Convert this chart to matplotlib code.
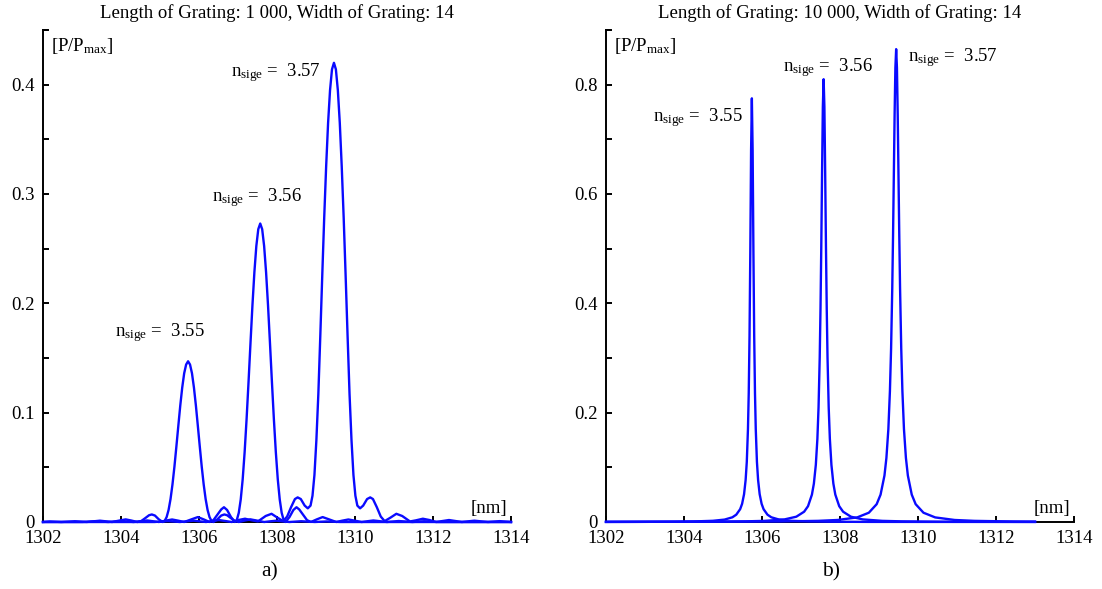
import matplotlib
matplotlib.use("Agg")
import matplotlib.pyplot as plt
from matplotlib.lines import Line2D
from matplotlib.ticker import MultipleLocator, FixedLocator

plt.rcParams['font.family'] = ['Liberation Serif', 'DejaVu Serif']
plt.rcParams['mathtext.fontset'] = 'custom'
plt.rcParams['mathtext.rm'] = 'Liberation Serif'
plt.rcParams['mathtext.it'] = 'Liberation Serif:italic'

# ---------------- data: panel a) (grating length 1 000) ----------------
wl_a = [1302.0, 1302.17, 1302.47, 1302.82, 1303.12, 1303.32, 1303.46, 1303.62, 1303.77, 1303.97,
        1304.12, 1304.27, 1304.42, 1304.52, 1304.62, 1304.72, 1304.79, 1304.87, 1304.97, 1305.07,
        1305.12, 1305.17, 1305.22, 1305.27, 1305.32, 1305.37, 1305.42, 1305.47, 1305.52, 1305.57,
        1305.62, 1305.67, 1305.72, 1305.77, 1305.82, 1305.87, 1305.92, 1305.97, 1306.02, 1306.07,
        1306.12, 1306.17, 1306.22, 1306.27, 1306.32, 1306.37, 1306.47, 1306.57, 1306.65, 1306.72,
        1306.82, 1306.92, 1307.02, 1307.17, 1307.32, 1307.47, 1307.67, 1307.82, 1307.98, 1308.12,
        1308.32, 1308.62, 1308.97, 1309.27, 1309.62, 1314.0]
p_a = [0, .0005, 0, .0007, 0, .0007, .0012, .0006, 0, .0014,
       .0024, .0013, 0, .0009, .0035, .0062, .0069, .0059, .0024, 0,
       .001, .0045, .011, .021, .0344, .0506, .069, .088, .1066, .123,
       .136, .144, .147, .144, .136, .123, .1066, .088, .069, .0506,
       .0344, .021, .011, .0045, .001, 0, .0024, .0059, .0069, .0062,
       .0035, .0009, 0, .0013, .0024, .0014, 0, .0006, .0012, .0007,
       0, .0007, 0, .0005, 0, 0]

wl_b = [1302.0, 1303.02, 1303.37, 1303.67, 1304.02, 1304.32, 1304.67, 1304.97, 1305.17, 1305.31,
        1305.47, 1305.62, 1305.82, 1305.97, 1306.12, 1306.27, 1306.37, 1306.47, 1306.57, 1306.64,
        1306.72, 1306.82, 1306.92, 1306.97, 1307.02, 1307.07, 1307.12, 1307.17, 1307.22, 1307.27,
        1307.32, 1307.37, 1307.42, 1307.47, 1307.52, 1307.57, 1307.62, 1307.67, 1307.72, 1307.77,
        1307.82, 1307.87, 1307.92, 1307.97, 1308.02, 1308.07, 1308.12, 1308.17, 1308.22, 1308.32,
        1308.42, 1308.50, 1308.57, 1308.67, 1308.77, 1308.87, 1309.02, 1309.17, 1309.32, 1309.52,
        1309.67, 1309.83, 1309.97, 1310.17, 1310.47, 1310.82, 1311.12, 1311.47, 1311.77, 1312.12,
        1314.0]
p_b = [0, 0, .0007, 0, .0009, 0, .0014, 0, .0014, .0023,
       .0012, 0, .0026, .0045, .0024, 0, .0017, .0066, .0115, .0135,
       .011, .0045, 0, .0019, .0084, .0206, .039, .0639, .094, .128,
       .1635, .198, .2284, .2524, .2678, .273, .2678, .2524, .2284, .198,
       .1635, .128, .094, .0639, .039, .0206, .0084, .0019, 0, .0045,
       .011, .0135, .0115, .0066, .0017, 0, .0024, .0045, .0026, 0,
       .0012, .0023, .0014, 0, .0014, 0, .0009, 0, .0007, 0,
       0]

wl_c = [1302.0, 1304.86, 1305.21, 1305.51, 1305.86, 1306.18, 1306.51, 1306.84, 1307.01, 1307.18,
        1307.36, 1307.51, 1307.71, 1307.86, 1308.01, 1308.16, 1308.26, 1308.36, 1308.46, 1308.53,
        1308.61, 1308.71, 1308.79, 1308.86, 1308.91, 1308.96, 1309.01, 1309.06, 1309.11, 1309.16,
        1309.21, 1309.26, 1309.31, 1309.36, 1309.41, 1309.46, 1309.51, 1309.56, 1309.61, 1309.66,
        1309.71, 1309.76, 1309.81, 1309.86, 1309.91, 1309.96, 1310.01, 1310.06, 1310.13, 1310.21,
        1310.31, 1310.39, 1310.46, 1310.56, 1310.66, 1310.76, 1310.91, 1311.06, 1311.21, 1311.41,
        1311.56, 1311.74, 1311.91, 1312.08, 1312.41, 1312.74, 1313.06, 1313.41, 1313.71, 1314.0]
p_c = [0, 0, .0008, 0, .0012, 0, .0018, 0, .0018, .003,
       .0015, .0005, .0055, .0075, .004, .0008, .005, .0135, .021, .0225,
       .021, .015, .0125, .015, .024, .043, .075, .117, .17, .225,
       .278, .325, .365, .395, .414, .42, .414, .395, .365, .325,
       .278, .225, .17, .117, .075, .043, .024, .015, .0125, .015,
       .021, .0225, .021, .0135, .005, .0008, .004, .0075, .0055, .0005,
       .0015, .003, .0018, 0, .0018, 0, .0012, 0, .0008, 0]

# ---------------- data: panel b) (grating length 10 000) ----------------
wl_d = [1302.0, 1302.74, 1303.74, 1304.24, 1304.74, 1305.04, 1305.24, 1305.34, 1305.44, 1305.49,
        1305.54, 1305.58, 1305.61, 1305.64, 1305.66, 1305.68, 1305.70, 1305.72, 1305.74, 1305.76,
        1305.78, 1305.80, 1305.82, 1305.84, 1305.87, 1305.90, 1305.94, 1305.99, 1306.04, 1306.14,
        1306.24, 1306.44, 1306.74, 1307.24, 1307.74, 1308.74, 1313.0]
p_d = [.0001, .0002, .0005, .001, .0022, .0044, .0086, .0134, .0235, .0333,
       .0509, .0767, .110, .170, .236, .340, .494, .679, .775, .679,
       .494, .340, .236, .170, .110, .0767, .0509, .0333, .0235, .0134,
       .0086, .0044, .0022, .001, .0005, .0002, .0001]

wl_e = [1302.0, 1304.58, 1305.58, 1306.08, 1306.58, 1306.88, 1307.08, 1307.18, 1307.28, 1307.33,
        1307.38, 1307.42, 1307.45, 1307.48, 1307.50, 1307.52, 1307.54, 1307.56, 1307.58, 1307.60,
        1307.62, 1307.64, 1307.66, 1307.68, 1307.71, 1307.74, 1307.78, 1307.83, 1307.88, 1307.98,
        1308.08, 1308.28, 1308.58, 1309.08, 1309.58, 1310.58, 1313.0]
p_e = [.0002, .0005, .0012, .0021, .0048, .0097, .0188, .0289, .0501, .0702,
       .1045, .152, .210, .301, .390, .504, .638, .759, .81, .759,
       .638, .504, .390, .301, .210, .152, .1045, .0702, .0501, .0289,
       .0188, .0097, .0048, .0021, .0012, .0005, .0002]

wl_f = [1302.0, 1306.44, 1307.44, 1307.94, 1308.44, 1308.74, 1308.94, 1309.04, 1309.14, 1309.19,
        1309.24, 1309.28, 1309.31, 1309.34, 1309.36, 1309.38, 1309.40, 1309.42, 1309.44, 1309.46,
        1309.48, 1309.50, 1309.52, 1309.54, 1309.57, 1309.60, 1309.64, 1309.69, 1309.74, 1309.84,
        1309.94, 1310.14, 1310.44, 1310.94, 1311.44, 1312.44, 1313.0]
p_f = [.0003, .0009, .0021, .0037, .0084, .017, .0326, .050, .085, .1173,
       .170, .2395, .3175, .428, .523, .633, .744, .831, .865, .831,
       .744, .633, .523, .428, .3175, .2395, .170, .1173, .085, .050,
       .0326, .017, .0084, .0037, .0021, .0009, .0006]

titles = ["Length of Grating: 1 000, Width of Grating: 14",
          "Length of Grating: 10 000, Width of Grating: 14"]
captions = ["a)", "b)"]
x_ticks = [1302, 1304, 1306, 1308, 1310, 1312, 1314]
y_ticks_a = [0, 0.1, 0.2, 0.3, 0.4]
y_labels_a = ["0", "0.1", "0.2", "0.3", "0.4"]
y_ticks_b = [0, 0.2, 0.4, 0.6, 0.8]
y_labels_b = ["0", "0.2", "0.4", "0.6", "0.8"]
n_labels = ["3.55", "3.56", "3.57"]
# label anchor positions (data coords): (x, y, ha)
ann_a = [(1306.15, 0.173, 'right'), (1308.64, 0.297, 'right'), (1309.10, 0.411, 'right')]
ann_b = [(1305.51, 0.740, 'right'), (1308.85, 0.831, 'right'), (1309.74, 0.849, 'left')]

BLUE = '#0a0aff'
FS = 13.5
W, H = 1102, 589

fig = plt.figure(figsize=(W / 100, H / 100), dpi=100)
ax1 = fig.add_axes([43 / W, 67 / H, 468 / W, 492 / H])
ax2 = fig.add_axes([606 / W, 67 / H, 468 / W, 492 / H])

panels = [
    (ax1, [(wl_a, p_a), (wl_b, p_b), (wl_c, p_c)], 0.45, y_ticks_a, y_labels_a, 0.05, ann_a),
    (ax2, [(wl_d, p_d), (wl_e, p_e), (wl_f, p_f)], 0.90, y_ticks_b, y_labels_b, 0.1, ann_b),
]

for i, (ax, curves, ymax, yt, ytl, yminor, ann) in enumerate(panels):
    for wl, p in curves:
        ax.plot(wl, p, color=BLUE, lw=1.7, zorder=3, clip_on=False, solid_joinstyle='round')
    ax.set_xlim(1302, 1314)
    ax.set_ylim(0, ymax)
    for s in ('top', 'right'):
        ax.spines[s].set_visible(False)
    for s in ('left', 'bottom'):
        ax.spines[s].set_linewidth(1.4)
        ax.spines[s].set_color('black')
    ax.set_xticks(x_ticks)
    ax.set_xticklabels([str(t) for t in x_ticks])
    ax.set_yticks(yt)
    ax.set_yticklabels(ytl)
    ax.yaxis.set_minor_locator(MultipleLocator(yminor))
    ax.tick_params(which='both', direction='in', length=4, width=1.4, labelsize=FS,
                   top=False, right=False)
    ax.tick_params(axis='x', pad=6)
    ax.tick_params(axis='y', pad=6)
    ax.set_title(titles[i], fontsize=FS, pad=9)
    # small serif at top of the left spine
    ax.add_line(Line2D([0, 0.009], [1, 1], transform=ax.transAxes, color='black',
                       lw=1.4, clip_on=False))
    ax.text(1302.2, ymax * 0.967, r'[P/P$_{\mathrm{max}}$]', fontsize=FS, ha='left', va='center')
    ax.text(1313.44, ymax * 0.0284, '[nm]', fontsize=FS, ha='center', va='center')
    for (x, y, ha), lab in zip(ann, n_labels):
        ax.text(x, y, r'n$_{\mathrm{sige}}$ =  ' + lab, fontsize=FS, ha=ha, va='center')

fig.text(270 / W, 1 - 572 / H, captions[0], fontsize=15.5, ha='center', va='center')
fig.text(831 / W, 1 - 572 / H, captions[1], fontsize=15.5, ha='center', va='center')

fig.savefig('out.png', dpi=100)
